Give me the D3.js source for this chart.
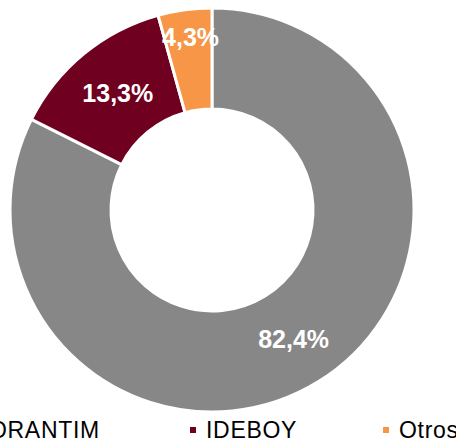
<html>
    <head>
        <title>Donut</title>
        <script type="text/javascript" src="https://cdn.jsdelivr.net/npm/d3@7"></script>
        <style>
            body { margin: 0; background: #fff; overflow: hidden; }
            text { font-family: "Liberation Sans", Arial, sans-serif; }
        </style>
    </head>
    <body>
        <script type="text/javascript">
            // data
            let categories = ["VOTORANTIM", "IDEBOY", "Otros"]
            let values = [82.4, 13.3, 4.3]
            let labels = ["82,4%", "13,3%", "4,3%"]
            let colors = ["#878787", "#6f0020", "#f79646"]

            // set up svg
            let w = 456
            let h = 440
            let cx = 212
            let cy = 210
            let outerR = 202
            let innerR = 101
            let svg = d3.select("body")
                        .append("svg")
                        .attr("width", w)
                        .attr("height", h)

            let dataset = categories.map((c, i) => ({cat: c, value: values[i], label: labels[i], color: colors[i]}))

            let pie = d3.pie()
                        .sort(null)
                        .value(d => d.value)
            let arc = d3.arc()
                        .innerRadius(innerR)
                        .outerRadius(outerR)
            let arcs = pie(dataset)

            let g = svg.append("g")
                        .attr("transform", "translate(" + cx + "," + cy + ")")

            g.selectAll("path")
                .data(arcs)
                .enter()
                .append("path")
                .attr("d", arc)
                .attr("fill", d => d.data.color)
                .attr("stroke", "#fff")
                .attr("stroke-width", 3)

            // labels: centroid on the ring; the small slice sits further out
            g.selectAll("text.lbl")
                .data(arcs)
                .enter()
                .append("text")
                .attr("class", "lbl")
                .attr("transform", d => {
                    let r = (d.endAngle - d.startAngle) < 0.4 ? 174 : (innerR + outerR) / 2
                    let a = (d.startAngle + d.endAngle) / 2
                    return "translate(" + (Math.sin(a) * r + 2) + "," + (-Math.cos(a) * r) + ")"
                })
                .attr("text-anchor", "middle")
                .attr("dy", "0.35em")
                .attr("fill", "#fff")
                .attr("font-weight", "bold")
                .attr("font-size", 25)
                .text(d => d.data.label)

            // legend
            let legendX = d3.scaleOrdinal()
                            .domain(categories)
                            .range([-60, 206, 399])
            let legend = svg.selectAll("g.leg")
                            .data(dataset)
                            .enter()
                            .append("g")
                            .attr("class", "leg")
                            .attr("transform", d => "translate(" + legendX(d.cat) + ",438)")
            legend.append("rect")
                .attr("x", -16)
                .attr("y", -11)
                .attr("width", 6)
                .attr("height", 6)
                .attr("fill", d => d.color)
            legend.append("text")
                .attr("font-size", 23)
                .attr("letter-spacing", 0.7)
                .attr("fill", "#000")
                .text(d => d.cat)
        </script>
    </body>
</html>
